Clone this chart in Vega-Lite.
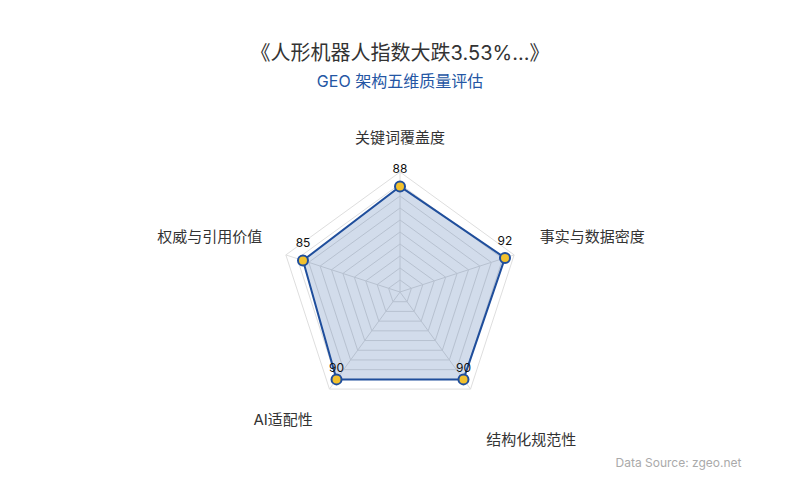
{
  "$schema": "https://vega.github.io/schema/vega-lite/v6.json",
  "width": 800,
  "height": 390,
  "autosize": {"type": "none"},
  "padding": {"top": 110, "left": 0, "right": 0, "bottom": 0},
  "background": "white",
  "config": {
    "view": {"stroke": null},
    "font": "Inter, Noto Sans CJK SC, sans-serif"
  },
  "title": {
    "text": "《人形机器人指数大跌3.53%...》",
    "subtitle": "GEO 架构五维质量评估",
    "anchor": "middle",
    "fontSize": 20,
    "fontWeight": "normal",
    "color": "#333333",
    "subtitleFontSize": 16,
    "subtitleColor": "#2456a4",
    "subtitlePadding": 10,
    "offset": 20
  },
  "datasets": {
    "scores": [
      {"dim": "关键词覆盖度", "idx": 0, "score": 88},
      {"dim": "事实与数据密度", "idx": 1, "score": 92},
      {"dim": "结构化规范性", "idx": 2, "score": 90},
      {"dim": "AI适配性", "idx": 3, "score": 90},
      {"dim": "权威与引用价值", "idx": 4, "score": 85}
    ],
    "rings": [
      {"ring": 10, "corner": [0, 1, 2, 3, 4]},
      {"ring": 20, "corner": [0, 1, 2, 3, 4]},
      {"ring": 30, "corner": [0, 1, 2, 3, 4]},
      {"ring": 40, "corner": [0, 1, 2, 3, 4]},
      {"ring": 50, "corner": [0, 1, 2, 3, 4]},
      {"ring": 60, "corner": [0, 1, 2, 3, 4]},
      {"ring": 70, "corner": [0, 1, 2, 3, 4]},
      {"ring": 80, "corner": [0, 1, 2, 3, 4]},
      {"ring": 90, "corner": [0, 1, 2, 3, 4]},
      {"ring": 100, "corner": [0, 1, 2, 3, 4]}
    ]
  },
  "encoding": {
    "x": {
      "field": "px",
      "type": "quantitative",
      "scale": {"domain": [-333.33, 333.33], "nice": false, "zero": false},
      "axis": {
        "title": "Data Source: zgeo.net",
        "labels": false,
        "ticks": false,
        "domain": false,
        "grid": false,
        "titleFontSize": 12,
        "titleFontWeight": "normal",
        "titleColor": "#aaaaaa",
        "titleAlign": "right",
        "titleAnchor": "end",
        "titleBaseline": "middle",
        "titleX": 741,
        "titleY": -38
      }
    },
    "y": {
      "field": "py",
      "type": "quantitative",
      "scale": {"domain": [-173.33, 151.67], "nice": false, "zero": false},
      "axis": null
    }
  },
  "layer": [
    {
      "data": {"name": "rings"},
      "transform": [
        {"flatten": ["corner"]},
        {"calculate": "datum.corner * 2 * PI / 5", "as": "a"},
        {"calculate": "datum.ring * sin(datum.a)", "as": "px"},
        {"calculate": "datum.ring * cos(datum.a)", "as": "py"}
      ],
      "mark": {"type": "line", "interpolate": "linear-closed", "color": "#dedede", "strokeWidth": 1},
      "encoding": {
        "detail": {"field": "ring", "type": "nominal"},
        "order": {"field": "corner", "type": "quantitative"}
      }
    },
    {
      "data": {"name": "rings"},
      "transform": [
        {"filter": "datum.ring == 100"},
        {"flatten": ["corner"]},
        {"calculate": "datum.corner * 2 * PI / 5", "as": "a"},
        {"calculate": "datum.ring * sin(datum.a)", "as": "px"},
        {"calculate": "datum.ring * cos(datum.a)", "as": "py"}
      ],
      "mark": {"type": "rule", "color": "#dedede", "strokeWidth": 1},
      "encoding": {
        "x2": {"datum": 0},
        "y2": {"datum": 0}
      }
    },
    {
      "data": {"name": "scores"},
      "transform": [
        {"calculate": "datum.idx * 2 * PI / 5", "as": "a"},
        {"calculate": "datum.score * sin(datum.a)", "as": "px"},
        {"calculate": "datum.score * cos(datum.a)", "as": "py"}
      ],
      "layer": [
        {
          "mark": {
            "type": "line",
            "interpolate": "linear-closed",
            "color": "#1f4e9c",
            "fill": "#1f4e9c",
            "fillOpacity": 0.2,
            "strokeWidth": 2
          },
          "encoding": {"order": {"field": "idx", "type": "quantitative"}}
        },
        {
          "mark": {
            "type": "point",
            "filled": true,
            "fill": "#f2c12e",
            "stroke": "#1f4e9c",
            "strokeWidth": 2,
            "opacity": 1,
            "size": 100
          }
        },
        {
          "transform": [{"filter": "datum.idx == 0 || datum.idx == 1 || datum.idx == 4"}],
          "mark": {"type": "text", "fontSize": 12, "color": "#111111", "dy": -17},
          "encoding": {"text": {"field": "score", "type": "quantitative"}}
        },
        {
          "transform": [{"filter": "datum.idx == 2 || datum.idx == 3"}],
          "mark": {"type": "text", "fontSize": 12, "color": "#111111", "dy": -11},
          "encoding": {"text": {"field": "score", "type": "quantitative"}}
        }
      ]
    },
    {
      "data": {"name": "scores"},
      "transform": [
        {"calculate": "datum.idx * 2 * PI / 5", "as": "a"},
        {"calculate": "125 * sin(datum.a)", "as": "px"},
        {"calculate": "125 * cos(datum.a)", "as": "py"}
      ],
      "layer": [
        {
          "transform": [{"filter": "datum.idx == 0"}],
          "mark": {"type": "text", "fontSize": 15, "color": "#333333", "align": "center", "baseline": "middle", "dy": -4},
          "encoding": {"text": {"field": "dim", "type": "nominal"}}
        },
        {
          "transform": [{"filter": "datum.idx == 1"}],
          "mark": {"type": "text", "fontSize": 15, "color": "#333333", "align": "left", "baseline": "middle", "dx": -3, "dy": -9},
          "encoding": {"text": {"field": "dim", "type": "nominal"}}
        },
        {
          "transform": [{"filter": "datum.idx == 2"}],
          "mark": {"type": "text", "fontSize": 15, "color": "#333333", "align": "left", "baseline": "middle", "dx": -2, "dy": 27},
          "encoding": {"text": {"field": "dim", "type": "nominal"}}
        },
        {
          "transform": [{"filter": "datum.idx == 3"}],
          "mark": {"type": "text", "fontSize": 15, "color": "#333333", "align": "right", "baseline": "middle", "dx": 1, "dy": 7},
          "encoding": {"text": {"field": "dim", "type": "nominal"}}
        },
        {
          "transform": [{"filter": "datum.idx == 4"}],
          "mark": {"type": "text", "fontSize": 15, "color": "#333333", "align": "right", "baseline": "middle", "dx": 5, "dy": -9},
          "encoding": {"text": {"field": "dim", "type": "nominal"}}
        }
      ]
    }
  ]
}
